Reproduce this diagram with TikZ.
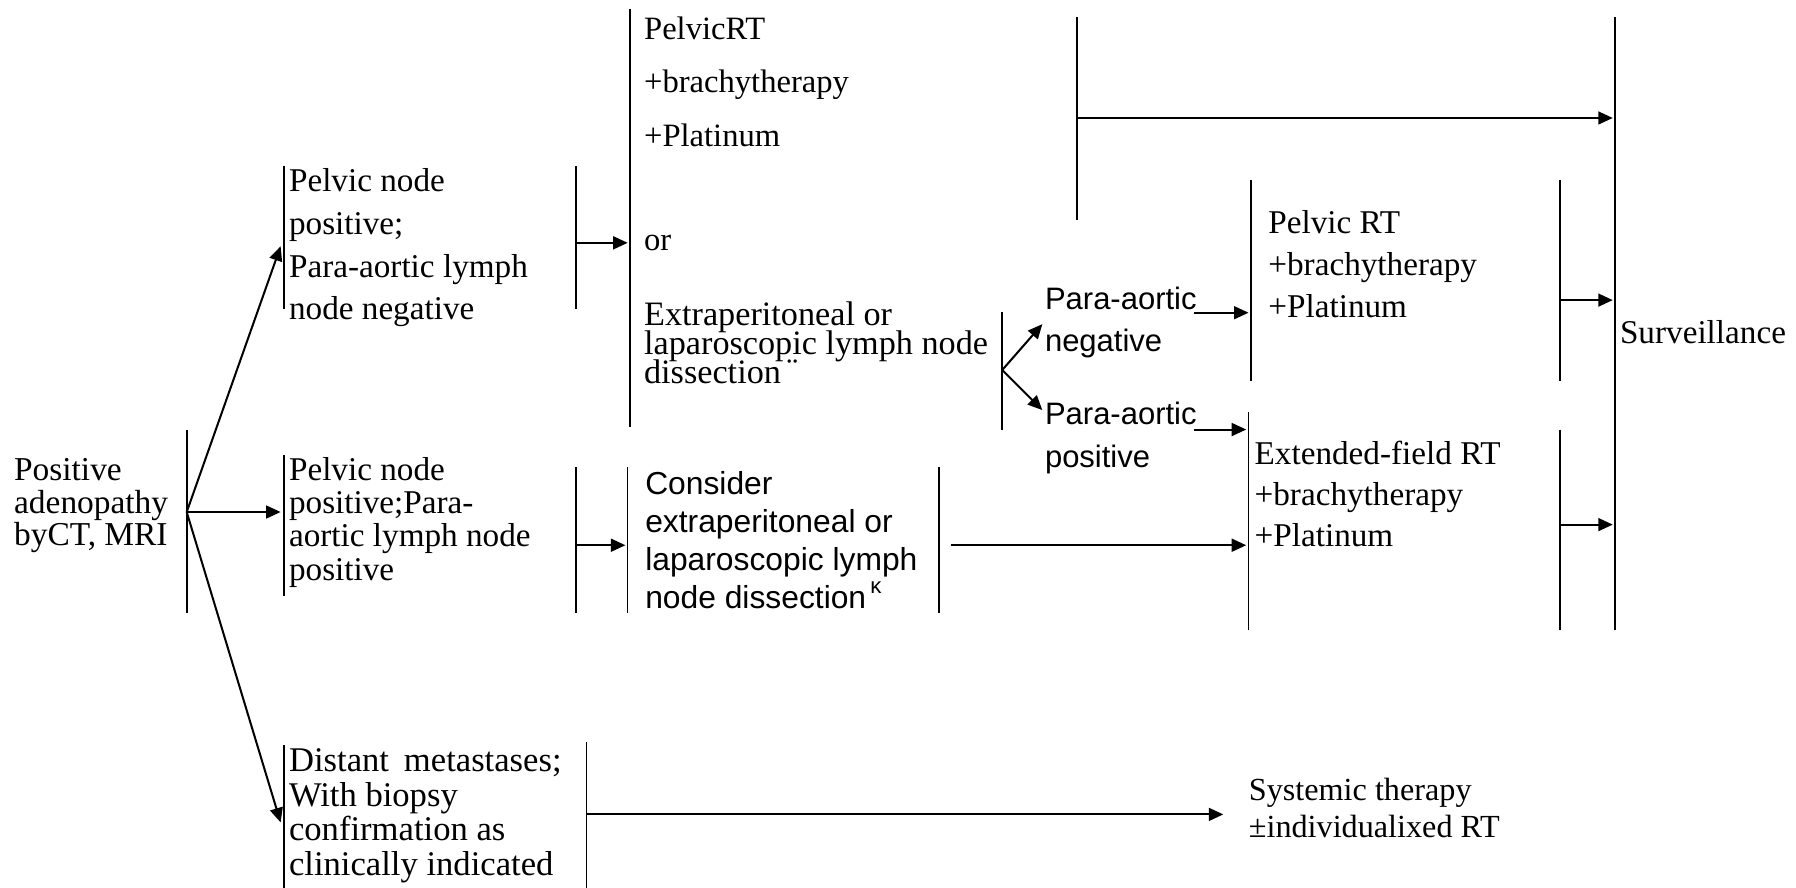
\documentclass[tikz,border=0pt]{standalone}
\usepackage{fontspec}
\setmainfont{Liberation Serif}
\newfontfamily\arialfont{Liberation Sans}
\usepackage{tikz}
\usetikzlibrary{arrows.meta}

\tikzset{
  bar/.style={line width=0.8pt},
  flow/.style={-{Triangle[length=7.2pt,width=6.4pt]}, line width=1pt},
  txt/.style={anchor=north west, inner sep=0pt, align=left},
}

\begin{document}
\begin{tikzpicture}[x=0.02cm, y=-0.02cm]
                % frame
                \useasboundingbox (0,0) rectangle (1568,775);
                % texts
                \node[txt, font=\fontsize{16.6}{16.2}\selectfont] (adeno) at (12,400) {Positive\\adenopathy\\byCT, MRI};
                \node[txt, font=\fontsize{16.5}{21.2}\selectfont] (pnneg) at (252,147) {Pelvic node\\positive;\\Para-aortic lymph\\node negative};
                \node[txt, font=\fontsize{16.5}{16.5}\selectfont] (pnpos) at (252,399) {Pelvic node\\positive;Para-\\aortic lymph node\\positive};
                \node[txt, font=\fontsize{17.2}{17.3}\selectfont] (distant) at (252,653) {\makebox[4.76cm][s]{Distant metastases;}\\With biopsy\\confirmation as\\clinically indicated};
                \node[txt, font=\fontsize{16.2}{26.6}\selectfont] (pelvicA) at (562,14) {PelvicRT\\+brachytherapy\\+Platinum};
                \node[txt, font=\fontsize{16.2}{20}\selectfont] (orA) at (562,205) {or};
                \node[txt, font=\fontsize{17}{17}\selectfont] (extraA) at (562,263) {Extraperitoneal or\\[-2.4pt]laparoscopic lymph node\\[-2.8pt]dissection\,\raisebox{1pt}{¨}};
                \node[txt, font=\arialfont\fontsize{15.8}{19}\selectfont] (consider) at (563,411) {Consider\\extraperitoneal or\\laparoscopic lymph\\node dissection\kern2pt\raisebox{0.5em}{\fontsize{11}{11}\selectfont κ}};
                \node[txt, font=\arialfont\fontsize{15.4}{21}\selectfont] (paneg) at (912,250) {Para-aortic\\negative};
                \node[txt, font=\arialfont\fontsize{15.4}{21}\selectfont] (papos) at (912,351) {Para-aortic\\positive};
                \node[txt, font=\fontsize{16.5}{21}\selectfont] (pelvicB) at (1107,183) {Pelvic RT\\+brachytherapy\\+Platinum};
                \node[txt, font=\fontsize{16.5}{20.4}\selectfont] (extfield) at (1095,385) {Extended-field RT\\+brachytherapy\\+Platinum};
                \node[txt, font=\fontsize{16.5}{20}\selectfont] (surv) at (1414,279) {Surveillance};
                \node[txt, font=\fontsize{16}{18.2}\selectfont] (systemic) at (1090,679) {Systemic therapy\\±individualixed RT};
                % bars
                \draw[bar] (163,375) -- (163,535);
                \draw[bar] (248,145) -- (248,270);
                \draw[bar] (248,397) -- (248,520);
                \draw[bar] (248,650) -- (248,775);
                \draw[bar] (512,648) -- (512,775);
                \draw[bar] (503,145) -- (503,270);
                \draw[bar] (503,408) -- (503,535);
                \draw[bar] (550,8) -- (550,373);
                \draw[bar] (548,408) -- (548,535);
                \draw[bar] (820,408) -- (820,535);
                \draw[bar] (940,15) -- (940,192);
                \draw[bar] (875,272) -- (875,375);
                \draw[bar] (1092,157) -- (1092,333);
                \draw[bar] (1090,360) -- (1090,550);
                \draw[bar] (1362,157) -- (1362,333);
                \draw[bar] (1362,375) -- (1362,550);
                \draw[bar] (1410,15) -- (1410,550);
                % junctions
                \coordinate (a0) at (163,447);
                \coordinate (a1) at (245,215);
                \coordinate (a2) at (245,447);
                \coordinate (a3) at (245,718);
                \coordinate (c1) at (503,212);
                \coordinate (c1e) at (548,212);
                \coordinate (c2) at (503,476);
                \coordinate (c2e) at (546,476);
                \coordinate (k1) at (830,476);
                \coordinate (k1e) at (1088,476);
                \coordinate (e0) at (940,103);
                \coordinate (e0e) at (1408,103);
                \coordinate (f0) at (875,323);
                \coordinate (f1) at (910,283);
                \coordinate (f2) at (910,358);
                \coordinate (g0) at (1042,273);
                \coordinate (g0e) at (1090,273);
                \coordinate (h0) at (1042,375);
                \coordinate (h0e) at (1088,375);
                \coordinate (i0) at (1362,262);
                \coordinate (i0e) at (1408,262);
                \coordinate (j0) at (1362,458);
                \coordinate (j0e) at (1408,458);
                \coordinate (m0) at (512,711);
                \coordinate (m0e) at (1068,711);
                % arrows
                \draw[flow] (a0) -- (a1);
                \draw[flow] (a0) -- (a2);
                \draw[flow] (a0) -- (a3);
                \draw[flow] (c1) -- (c1e);
                \draw[flow] (c2) -- (c2e);
                \draw[flow] (k1) -- (k1e);
                \draw[flow] (e0) -- (e0e);
                \draw[flow] (f0) -- (f1);
                \draw[flow] (f0) -- (f2);
                \draw[flow] (g0) -- (g0e);
                \draw[flow] (h0) -- (h0e);
                \draw[flow] (i0) -- (i0e);
                \draw[flow] (j0) -- (j0e);
                \draw[flow] (m0) -- (m0e);
        \end{tikzpicture}
\end{document}
